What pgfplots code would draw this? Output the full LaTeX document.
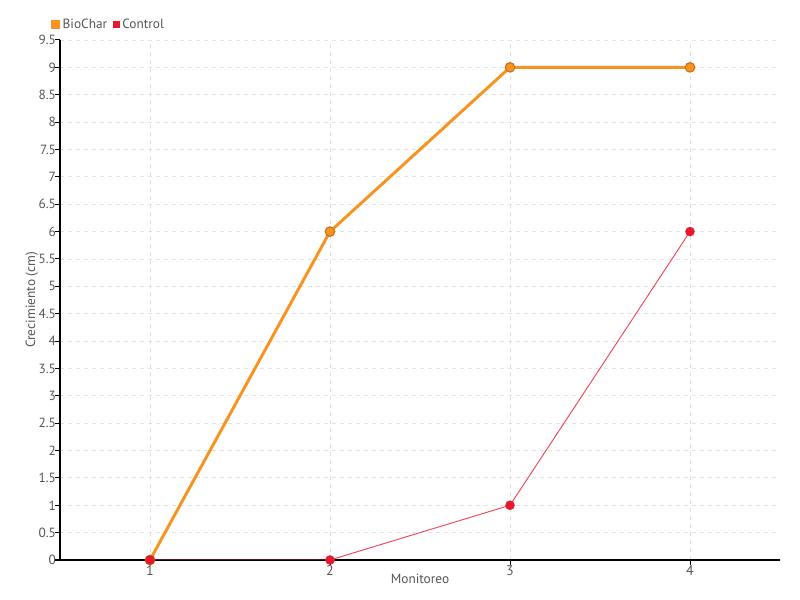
\documentclass[border=0pt]{standalone}
\usepackage{fontspec}
\setmainfont{PT Sans}
\usepackage{pgfplots}
\pgfplotsset{compat=1.18}
\definecolor{bioc}{HTML}{F7931E}
\definecolor{biocdark}{HTML}{C8701A}
\definecolor{ctrl}{HTML}{E8192C}
\definecolor{txt}{HTML}{555555}
\definecolor{gridc}{HTML}{E2E2E2}
\begin{document}
\begin{tikzpicture}
\begin{axis}[
  name=a, at={(0,0)}, anchor=south west,
  scale only axis, width=540pt, height=390pt,
  xmin=0.5, xmax=4.5, ymin=0, ymax=9.5,
  xtick={1,2,3,4},
  ytick={0,0.5,...,9.5},
  axis x line*=bottom, axis y line*=left,
  axis line style={black, line width=0.75pt},
  tick align=outside, major tick length=3.5pt,
  tick style={black, line width=0.75pt},
  grid=major,
  major grid style={gridc, dash pattern=on 3pt off 3pt, line width=0.6pt},
  /pgf/number format/assume math mode=true,
  ticklabel style={font=\fontsize{10.5}{12}\selectfont, text=txt},
  yticklabel style={/pgf/number format/fixed, /pgf/number format/precision=1, xshift=4pt, font=\fontsize{10}{12}\selectfont},
  xticklabel style={yshift=3pt},
  xlabel={Monitoreo}, ylabel={Crecimiento (cm)},
  label style={font=\fontsize{10}{12}\selectfont, text=txt},
  xlabel style={yshift=8pt},
  ylabel style={at={(axis description cs:0,0.5)}, anchor=south, yshift=13pt},
  legend columns=2,
  legend style={draw=none, fill=none, at={(0,1)}, anchor=south west,
    xshift=-10pt, yshift=3pt, font=\fontsize{10}{12}\selectfont, text=txt,
    /tikz/every even column/.append style={column sep=2pt}},
  legend cell align=left,
]
\addplot[bioc, line width=2.2pt, mark=*, mark size=3.6pt,
  mark options={fill=bioc, draw=biocdark, line width=0.8pt},
  legend image code/.code={\fill[bioc] (0pt,-2.3pt) rectangle (4.6pt,2.3pt);}]
  coordinates {(1,0) (2,6) (3,9) (4,9)};
\addlegendentry{BioChar}
\addplot[ctrl!80, line width=0.7pt, mark=*, mark size=3.2pt,
  mark options={fill=ctrl, draw=ctrl},
  legend image code/.code={\fill[ctrl] (0pt,-2.3pt) rectangle (4.6pt,2.3pt);}]
  coordinates {(1,0) (2,0) (3,1) (4,6)};
\addlegendentry{Control}
\end{axis}
\pgfresetboundingbox
\path[use as bounding box] (-45pt,-30pt) rectangle (555pt,420pt);
\end{tikzpicture}
\end{document}
